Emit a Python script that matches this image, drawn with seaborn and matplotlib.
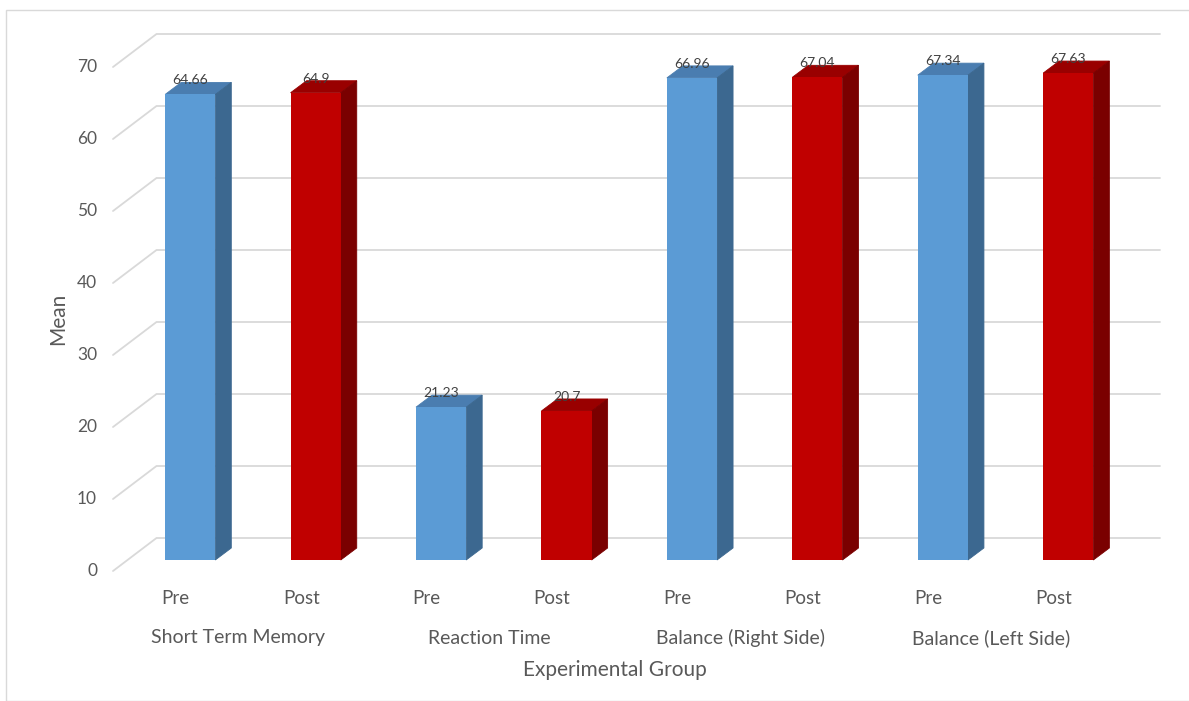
import numpy as np
import pandas as pd
import matplotlib
matplotlib.use("Agg")
import matplotlib.pyplot as plt
from matplotlib.patches import Polygon, Rectangle
from matplotlib.transforms import offset_copy
import seaborn as sns

# ---- data -------------------------------------------------------------
measures = ["Short Term Memory", "Reaction Time", "Balance (Right Side)", "Balance (Left Side)"]
phases = ["Pre", "Post"]
pre_means = [64.66, 21.23, 66.96, 67.34]
post_means = [64.9, 20.7, 67.04, 67.63]
value_labels_pre = ["64.66", "21.23", "66.96", "67.34"]
value_labels_post = ["64.9", "20.7", "67.04", "67.63"]
y_ticks = [0, 10, 20, 30, 40, 50, 60, 70]

rows = []
for m, pre, post, lp, lq in zip(measures, pre_means, post_means, value_labels_pre, value_labels_post):
    rows.append({"slot": f"{m} | Pre", "measure": m, "phase": "Pre", "mean": pre, "label": lp})
    rows.append({"slot": f"{m} | Post", "measure": m, "phase": "Post", "mean": post, "label": lq})
df = pd.DataFrame(rows)

# ---- style ------------------------------------------------------------
sns.set_theme(style="white")
plt.rcParams["font.family"] = ["Lato", "DejaVu Sans"]

front = {"Pre": "#5B9BD5", "Post": "#C00000"}
side = {"Pre": "#3C6890", "Post": "#7A0000"}
top = {"Pre": "#4A7DB0", "Post": "#990000"}
grid_c = "#D9D9D9"
axis_text = "#595959"
value_text = "#404040"

W, H = 1189, 701
fig = plt.figure(figsize=(W / 100, H / 100), dpi=100)
fig.patch.set_facecolor("white")

# chart-area border
fig.add_artist(Rectangle((6 / W, 0), 1.2, 1 - 10 / H, transform=fig.transFigure,
                         fill=False, edgecolor=grid_c, lw=1.0))

# plotting plane (front faces of the bars)
ax_l, ax_r = 127.5, 1131.0
ax_bot, ax_top = 560.0, 56.0
ax = fig.add_axes([ax_l / W, (H - ax_bot) / H, (ax_r - ax_l) / W, (ax_bot - ax_top) / H])

sns.barplot(data=df, x="slot", y="mean", hue="phase", palette=front, dodge=False,
            width=0.4, saturation=1, legend=False, ax=ax, zorder=3, linewidth=0)
ax.set_xlim(-0.5, len(df) - 0.5)
ax.set_ylim(0, 70)
for s in ax.spines.values():
    s.set_visible(False)
ax.set_xticks([])
ax.set_yticks([])
ax.set_facecolor("none")

# pixel -> data conversion for the depth offsets
p0 = ax.transData.transform((0, 0))
p1 = ax.transData.transform((1, 10))
ppx = p1[0] - p0[0]
ppy = (p1[1] - p0[1]) / 10.0


def shift(x, y, dx, dy):
    return (x + dx / ppx, y + dy / ppy)


FLOOR = (-14.5, -11.0)   # front edge of the floor
BACK = (29.0, 22.0)      # back wall
DEPTH = (16.0, 12.0)     # bar depth

# gridlines on the side wall and back wall
xmin, xmax = ax.get_xlim()
for v in y_ticks:
    a = shift(xmin, v, *FLOOR)
    b = shift(xmin, v, *BACK)
    c = shift(xmax, v, *BACK)
    ax.plot([a[0], b[0], c[0]], [a[1], b[1], c[1]], color=grid_c, lw=1.3,
            clip_on=False, zorder=0, solid_joinstyle="miter")

# side and top faces of each bar (patches are matched to rows by position)
value_tr = offset_copy(ax.transData, fig, x=0, y=14, units="dots")
for patch in ax.patches:
    x0 = patch.get_x()
    w = patch.get_width()
    x1 = x0 + w
    h = patch.get_height()
    r = df.iloc[int(round(x0 + w / 2))]
    ph = r["phase"]
    top_face = [(x0, h), (x1, h), shift(x1, h, *DEPTH), shift(x0, h, *DEPTH)]
    side_face = [(x1, h), (x1, 0), shift(x1, 0, *DEPTH), shift(x1, h, *DEPTH)]
    ax.add_patch(Polygon(top_face, closed=True, facecolor=top[ph], edgecolor=top[ph],
                         lw=0.6, zorder=2, clip_on=False))
    ax.add_patch(Polygon(side_face, closed=True, facecolor=side[ph], edgecolor=side[ph],
                         lw=0.6, zorder=2, clip_on=False))
    ax.text(x0 + w / 2, h, r["label"], ha="center", va="center",
            fontsize=10, color=value_text, zorder=5, transform=value_tr)

# y tick labels along the front edge of the floor
ytr = offset_copy(ax.get_yaxis_transform(), fig, x=-30.5, y=-11, units="dots")
for v in y_ticks:
    ax.text(0, v, f"{v}", ha="right", va="center", fontsize=12.5, color=axis_text,
            transform=ytr)

# category labels: phase row and measure row
ph_tr = offset_copy(ax.get_xaxis_transform(), fig, x=-14.5, y=-39, units="dots")
grp_tr = offset_copy(ax.get_xaxis_transform(), fig, x=-14.5, y=-78, units="dots")
for i, r in df.iterrows():
    ax.text(i, 0, r["phase"], ha="center", va="center", fontsize=13.5, color=axis_text,
            transform=ph_tr)
for k, m in enumerate(measures):
    ax.text(2 * k + 0.5, 0, m, ha="center", va="center", fontsize=14, color=axis_text,
            transform=grp_tr)

ax.set_xlabel("Experimental Group", fontsize=15, color=axis_text)
ax.set_ylabel("Mean", fontsize=15, color=axis_text)
ax.xaxis.label.set_verticalalignment("center")
ax.yaxis.label.set_verticalalignment("center")
ax.xaxis.set_label_coords((615 - ax_l) / (ax_r - ax_l), -110 / (ax_bot - ax_top))
ax.yaxis.set_label_coords((58 - ax_l) / (ax_r - ax_l), 0.5 - 11 / (ax_bot - ax_top))

fig.savefig("out.png", dpi=100, facecolor="white")
